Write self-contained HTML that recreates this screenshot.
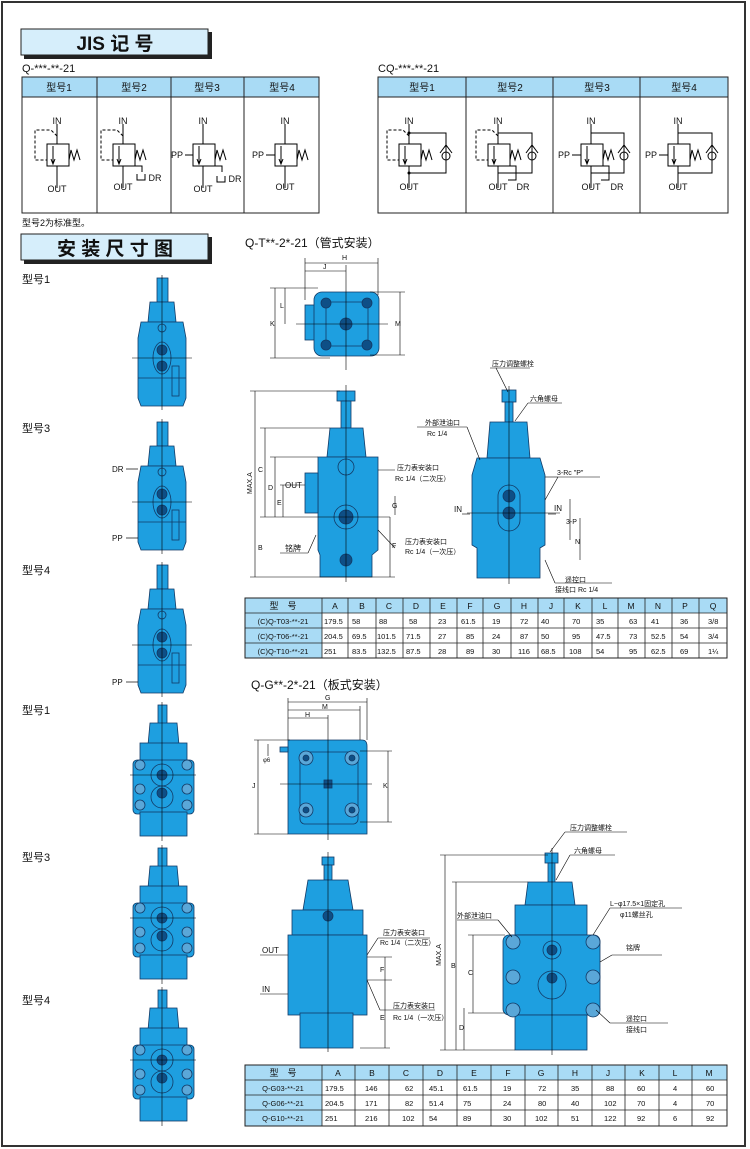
<!DOCTYPE html>
<html><head><meta charset="utf-8"><style>
html,body{margin:0;padding:0;background:#fff}
svg{display:block}
text{font-family:"Liberation Sans","Noto Sans CJK SC",sans-serif;fill:#111}
</style></head><body>
<svg width="750" height="1149" viewBox="0 0 750 1149" xmlns="http://www.w3.org/2000/svg">
<defs>
<g id="sym">
<line x1="0" y1="-20" x2="0" y2="0" stroke="#000" stroke-width="1"/>
<rect x="-10" y="0" width="22" height="22" fill="none" stroke="#000" stroke-width="1"/>
<line x1="-4" y1="2" x2="-4" y2="20" stroke="#000"/><path d="M-6,15 L-4,20 L-2,15" fill="none" stroke="#000"/>
<path d="M12,16 L14,6 L17,16 L20,6 L23,16" fill="none" stroke="#000"/>
<line x1="0" y1="22" x2="0" y2="44" stroke="#000"/>
</g>
<g id="pil"><path d="M0,-8 L-6,-14 L-22,-14 L-22,16 L-10,16" fill="none" stroke="#000" stroke-dasharray="3,2"/></g>
<g id="tv" stroke="#123a66" stroke-width="0.8" fill="#1e9fe0">
<rect x="-5" y="0" width="11" height="24"/>
<path d="M-12,24 L12,24 L14,44 L-14,44 Z"/>
<path d="M-21,44 L21,44 L24,60 L24,120 L21,128 L-21,128 L-24,120 L-24,60 Z"/>
<ellipse cx="0" cy="80" rx="9" ry="16" fill="#1e9fe0"/>
<circle cx="0" cy="72" r="5" fill="#0e4f86"/><circle cx="0" cy="88" r="5" fill="#0e4f86"/>
<circle cx="0" cy="50" r="4" fill="none"/>
<line x1="0" y1="-3" x2="0" y2="132" stroke="#000" stroke-width="0.6"/>
<line x1="-30" y1="80" x2="30" y2="80" stroke="#000" stroke-width="0.6"/>
<rect x="10" y="88" width="7" height="30" fill="none"/>
<line x1="-24" y1="100" x2="24" y2="100"/>
</g>
<g id="gv" stroke="#123a66" stroke-width="0.8" fill="#1e9fe0">
<rect x="-4" y="0" width="9" height="20"/>
<path d="M-12,18 L15,18 L17,40 L-14,40 Z"/>
<rect x="-22" y="38" width="47" height="18"/>
<rect x="-29" y="55" width="61" height="54" rx="4"/>
<rect x="-22" y="107" width="47" height="24"/>
<circle cx="0" cy="70" r="11" fill="none"/><circle cx="0" cy="70" r="5" fill="#0e4f86"/>
<circle cx="0" cy="92" r="11" fill="none"/><circle cx="0" cy="88" r="5" fill="#0e4f86"/>
<circle cx="-22" cy="60" r="5" fill="#5aa7d8"/><circle cx="25" cy="60" r="5" fill="#5aa7d8"/>
<circle cx="-22" cy="84" r="5" fill="#5aa7d8"/><circle cx="25" cy="84" r="5" fill="#5aa7d8"/>
<circle cx="-22" cy="100" r="5" fill="#5aa7d8"/><circle cx="25" cy="100" r="5" fill="#5aa7d8"/>
<line x1="0" y1="-3" x2="0" y2="136" stroke="#000" stroke-width="0.6"/>
<line x1="-32" y1="70" x2="34" y2="70" stroke="#000" stroke-width="0.6"/>
</g>
</defs>
<rect x="2" y="2" width="743" height="1144" fill="none" stroke="#333" stroke-width="2"/>
<rect x="24" y="32" width="188" height="27" fill="#222"/>
<rect x="21" y="29" width="187" height="26" fill="#d6eefb" stroke="#222" stroke-width="1"/>
<text x="115" y="50" font-size="19" font-weight="bold" text-anchor="middle">JIS 记 号</text>
<text x="22" y="72" font-size="11">Q-***-**-21</text>
<text x="378" y="72" font-size="11">CQ-***-**-21</text>
<rect x="22" y="77" width="297" height="20" fill="#a9dbf5"/>
<rect x="22" y="77" width="297" height="136" fill="none" stroke="#222"/>
<line x1="22" y1="97" x2="319" y2="97" stroke="#222"/>
<line x1="97" y1="77" x2="97" y2="213" stroke="#222"/><line x1="171" y1="77" x2="171" y2="213" stroke="#222"/><line x1="244" y1="77" x2="244" y2="213" stroke="#222"/>
<g font-size="10" text-anchor="middle"><text x="59" y="91">型号1</text><text x="134" y="91">型号2</text><text x="207" y="91">型号3</text><text x="282" y="91">型号4</text></g>
<rect x="378" y="77" width="350" height="20" fill="#a9dbf5"/>
<rect x="378" y="77" width="350" height="136" fill="none" stroke="#222"/>
<line x1="378" y1="97" x2="728" y2="97" stroke="#222"/>
<line x1="466" y1="77" x2="466" y2="213" stroke="#222"/><line x1="553" y1="77" x2="553" y2="213" stroke="#222"/><line x1="640" y1="77" x2="640" y2="213" stroke="#222"/>
<g font-size="10" text-anchor="middle"><text x="422" y="91">型号1</text><text x="510" y="91">型号2</text><text x="597" y="91">型号3</text><text x="684" y="91">型号4</text></g>
<g font-size="9" text-anchor="middle">
<use href="#sym" x="57" y="144"/><use href="#pil" x="57" y="144"/><text x="57" y="124">IN</text><text x="57" y="192">OUT</text>
<use href="#sym" x="123" y="144"/><use href="#pil" x="123" y="144"/><text x="123" y="124">IN</text><text x="123" y="190">OUT</text>
<path d="M135,166 L142,166 L142,172 M137,174 L137,180 L145,180 L145,174" fill="none" stroke="#000"/><text x="155" y="181">DR</text>
<use href="#sym" x="203" y="144"/><text x="203" y="124">IN</text><text x="203" y="192">OUT</text>
<line x1="185" y1="155" x2="193" y2="155" stroke="#000"/><text x="177" y="158">PP</text>
<path d="M215,166 L222,166 L222,172 M217,176 L217,182 L225,182 L225,176" fill="none" stroke="#000"/><text x="235" y="182">DR</text>
<use href="#sym" x="285" y="144"/><text x="285" y="124">IN</text><text x="285" y="190">OUT</text>
<line x1="266" y1="155" x2="275" y2="155" stroke="#000"/><text x="258" y="158">PP</text>
</g>
<g font-size="9" text-anchor="middle" fill="none">
<g><use href="#sym" x="409" y="144"/><use href="#pil" x="409" y="144"/><path d="M409,133 L446,133 L446,173 L409,173" fill="none" stroke="#000"/><path d="M440,153 l6,-8 l6,8" fill="none" stroke="#000"/><circle cx="446" cy="156" r="4" fill="none" stroke="#000"/><circle cx="409" cy="133" r="1.5" fill="#000"/><circle cx="409" cy="173" r="1.5" fill="#000"/><text x="409" y="124">IN</text><text x="409" y="190">OUT</text></g>
<g><use href="#sym" x="498" y="144"/><use href="#pil" x="498" y="144"/><path d="M498,133 L532,133 L532,173 L498,173" fill="none" stroke="#000"/><path d="M526,153 l6,-8 l6,8" fill="none" stroke="#000"/><circle cx="532" cy="156" r="4" fill="none" stroke="#000"/><path d="M510,166 L516,166 L516,180 L508,180" fill="none" stroke="#000"/><text x="498" y="190">OUT</text><text x="523" y="190">DR</text><text x="498" y="124">IN</text></g>
<g><use href="#sym" x="591" y="144"/><path d="M591,133 L624,133 L624,173 L591,173" fill="none" stroke="#000"/><path d="M618,153 l6,-8 l6,8" fill="none" stroke="#000"/><circle cx="624" cy="156" r="4" fill="none" stroke="#000"/><line x1="572" y1="155" x2="581" y2="155" stroke="#000"/><text x="564" y="158">PP</text><path d="M603,166 L609,166 L609,180 L601,180" fill="none" stroke="#000"/><text x="591" y="190">OUT</text><text x="617" y="190">DR</text><text x="591" y="124">IN</text></g>
<g><use href="#sym" x="678" y="144"/><path d="M678,133 L712,133 L712,173 L678,173" fill="none" stroke="#000"/><path d="M706,153 l6,-8 l6,8" fill="none" stroke="#000"/><circle cx="712" cy="156" r="4" fill="none" stroke="#000"/><line x1="659" y1="155" x2="668" y2="155" stroke="#000"/><text x="651" y="158">PP</text><text x="678" y="190">OUT</text><text x="678" y="124">IN</text></g>
</g>
<text x="22" y="226" font-size="9">型号2为标准型。</text>
<rect x="24" y="237" width="188" height="27" fill="#222"/>
<rect x="21" y="234" width="187" height="26" fill="#d6eefb" stroke="#222"/>
<text x="115" y="255" font-size="19" font-weight="bold" text-anchor="middle">安 装 尺 寸 图</text>
<text x="245" y="247" font-size="12">Q-T**-2*-21（管式安装）</text>
<g font-size="11"><text x="22" y="283">型号1</text><text x="22" y="432">型号3</text><text x="22" y="574">型号4</text><text x="22" y="714">型号1</text><text x="22" y="861">型号3</text><text x="22" y="1004">型号4</text></g>
<use href="#tv" x="162" y="278"/>
<use href="#tv" x="162" y="422"/>
<use href="#tv" x="162" y="565"/>
<use href="#gv" x="162" y="705"/>
<use href="#gv" x="162" y="848"/>
<use href="#gv" x="162" y="990"/>
<g font-size="8"><text x="112" y="472">DR</text><text x="112" y="541">PP</text><text x="112" y="685">PP</text></g>
<g stroke="#000" stroke-width="0.7"><line x1="126" y1="469" x2="138" y2="469"/><line x1="126" y1="538" x2="138" y2="538"/><line x1="126" y1="682" x2="138" y2="682"/></g>
<g stroke="#123a66" stroke-width="0.8" fill="#1e9fe0">
<rect x="305" y="305" width="14" height="35"/>
<rect x="314" y="292" width="65" height="64" rx="8"/>
<rect x="326" y="302" width="42" height="44" rx="5" fill="none"/>
<circle cx="326" cy="303" r="5" fill="#0e4f86"/><circle cx="367" cy="303" r="5" fill="#0e4f86"/><circle cx="326" cy="345" r="5" fill="#0e4f86"/><circle cx="367" cy="345" r="5" fill="#0e4f86"/>
<circle cx="346" cy="324" r="6" fill="#0e4f86"/>
</g>
<g stroke="#000" stroke-width="0.6" fill="none">
<line x1="346" y1="265" x2="346" y2="370"/><line x1="296" y1="324" x2="388" y2="324"/>
<line x1="305" y1="263" x2="378" y2="263"/><line x1="305" y1="258" x2="305" y2="300"/><line x1="378" y1="258" x2="378" y2="295"/>
<line x1="305" y1="271" x2="346" y2="271"/>
<line x1="275" y1="288" x2="275" y2="358"/><line x1="270" y1="288" x2="318" y2="288"/><line x1="270" y1="358" x2="330" y2="358"/>
<line x1="285" y1="288" x2="285" y2="324"/>
<line x1="400" y1="292" x2="400" y2="355"/><line x1="370" y1="292" x2="405" y2="292"/><line x1="370" y1="355" x2="405" y2="355"/>
</g>
<g font-size="7"><text x="342" y="260">H</text><text x="323" y="269">J</text><text x="270" y="326">K</text><text x="280" y="308">L</text><text x="395" y="326">M</text></g>
<g stroke="#123a66" stroke-width="0.8" fill="#1e9fe0">
<rect x="337" y="391" width="18" height="10"/><rect x="341" y="401" width="10" height="27"/>
<path d="M330,428 L363,428 L366,457 L327,457 Z"/>
<path d="M318,457 L378,457 L378,550 L372,555 L372,577 L320,577 L320,555 L318,550 Z"/>
<rect x="305" y="473" width="13" height="40"/>
<circle cx="346" cy="467" r="8" fill="none"/><circle cx="346" cy="517" r="12" fill="none"/><circle cx="346" cy="517" r="7" fill="#0e4f86"/>
<circle cx="346" cy="560" r="6" fill="#0e4f86"/>
</g>
<g stroke="#000" stroke-width="0.6" fill="none">
<line x1="346" y1="385" x2="346" y2="582"/><line x1="260" y1="517" x2="390" y2="517"/>
<line x1="255" y1="391" x2="255" y2="577"/><line x1="250" y1="391" x2="340" y2="391"/><line x1="250" y1="577" x2="395" y2="577"/>
<line x1="265" y1="428" x2="265" y2="517"/><line x1="260" y1="428" x2="330" y2="428"/>
<line x1="275" y1="457" x2="275" y2="517"/><line x1="270" y1="457" x2="318" y2="457"/>
<line x1="283" y1="485" x2="283" y2="517"/><line x1="280" y1="485" x2="305" y2="485"/>
<line x1="395" y1="496" x2="395" y2="515"/><line x1="390" y1="517" x2="390" y2="577"/>
<line x1="378" y1="470" x2="395" y2="470"/><line x1="378" y1="530" x2="395" y2="548"/>
<line x1="280" y1="553" x2="308" y2="553"/><line x1="308" y1="553" x2="316" y2="535"/>
</g>
<g font-size="7"><text x="248" y="490" transform="rotate(-90 252 490)">MAX.A</text><text x="258" y="472">C</text><text x="268" y="490">D</text><text x="277" y="505">E</text><text x="258" y="550">B</text><text x="392" y="548">F</text><text x="392" y="508">G</text>
<text x="285" y="488" font-size="8">OUT</text><text x="285" y="551" font-size="8">铭牌</text>
<text x="397" y="470">压力表安装口</text><text x="395" y="481">Rc 1/4（二次压）</text>
<text x="405" y="544">压力表安装口</text><text x="405" y="554">Rc 1/4（一次压）</text></g>
<g stroke="#123a66" stroke-width="0.8" fill="#1e9fe0">
<rect x="502" y="390" width="14" height="12"/><rect x="505" y="402" width="8" height="20"/>
<path d="M490,422 L527,422 L530,458 L487,458 Z"/>
<path d="M477,458 L540,458 L545,475 L545,545 L540,548 L540,578 L477,578 L477,548 L472,545 L472,475 Z"/>
<rect x="498" y="485" width="22" height="46" rx="11" fill="none"/>
<circle cx="509" cy="496" r="6" fill="#0e4f86"/><circle cx="509" cy="513" r="6" fill="#0e4f86"/>
</g>
<g stroke="#000" stroke-width="0.6" fill="none">
<line x1="509" y1="386" x2="509" y2="584"/><line x1="467" y1="513" x2="560" y2="513"/>
<line x1="496" y1="368" x2="508" y2="392"/><line x1="490" y1="368" x2="530" y2="368"/>
<line x1="515" y1="421" x2="528" y2="403"/><line x1="528" y1="403" x2="562" y2="403"/>
<line x1="417" y1="427" x2="467" y2="427"/><line x1="467" y1="427" x2="480" y2="460"/>
<line x1="545" y1="477" x2="558" y2="477"/><line x1="558" y1="477" x2="600" y2="477"/><line x1="545" y1="500" x2="558" y2="477"/>
<line x1="570" y1="499" x2="570" y2="540"/><line x1="580" y1="518" x2="580" y2="560"/>
<line x1="545" y1="560" x2="555" y2="583"/><line x1="555" y1="583" x2="612" y2="583"/>
<line x1="462" y1="514" x2="470" y2="514"/><line x1="548" y1="514" x2="556" y2="514"/>
</g>
<g font-size="7"><text x="492" y="366">压力调整螺栓</text><text x="530" y="401">六角螺母</text><text x="425" y="425">外部泄油口</text><text x="427" y="436">Rc 1/4</text>
<text x="557" y="475">3-Rc "P"</text><text x="454" y="512" font-size="8">IN</text><text x="554" y="511" font-size="8">IN</text>
<text x="565" y="582">遥控口</text><text x="555" y="592">接线口 Rc 1/4</text><text x="566" y="524">3-P</text><text x="575" y="544">N</text></g>
<g font-size="7.5">
<rect x="245" y="598" width="77" height="60" fill="#a9dbf5"/>
<rect x="322" y="598" width="405" height="15" fill="#a9dbf5"/>
<rect x="245" y="598" width="482" height="60" fill="none" stroke="#222"/>
<g stroke="#222" stroke-width="0.8">
<line x1="245" y1="613" x2="727" y2="613"/><line x1="245" y1="628" x2="727" y2="628"/><line x1="245" y1="643" x2="727" y2="643"/>
<line x1="322" y1="598" x2="322" y2="658"/><line x1="348" y1="598" x2="348" y2="658"/><line x1="376" y1="598" x2="376" y2="658"/><line x1="403" y1="598" x2="403" y2="658"/><line x1="430" y1="598" x2="430" y2="658"/><line x1="457" y1="598" x2="457" y2="658"/><line x1="483" y1="598" x2="483" y2="658"/><line x1="511" y1="598" x2="511" y2="658"/><line x1="538" y1="598" x2="538" y2="658"/><line x1="564" y1="598" x2="564" y2="658"/><line x1="592" y1="598" x2="592" y2="658"/><line x1="618" y1="598" x2="618" y2="658"/><line x1="645" y1="598" x2="645" y2="658"/><line x1="672" y1="598" x2="672" y2="658"/><line x1="699" y1="598" x2="699" y2="658"/>
</g>
<text x="283" y="609" text-anchor="middle" font-size="9">型　号</text>
<g text-anchor="middle" font-size="8.5"><text x="335" y="609">A</text><text x="362" y="609">B</text><text x="389" y="609">C</text><text x="416" y="609">D</text><text x="443" y="609">E</text><text x="470" y="609">F</text><text x="497" y="609">G</text><text x="524" y="609">H</text><text x="551" y="609">J</text><text x="578" y="609">K</text><text x="605" y="609">L</text><text x="631" y="609">M</text><text x="658" y="609">N</text><text x="685" y="609">P</text><text x="713" y="609">Q</text></g>
<g text-anchor="middle"><text x="283" y="624">(C)Q-T03-**-21</text><text x="283" y="639">(C)Q-T06-**-21</text><text x="283" y="654">(C)Q-T10-**-21</text></g>
<g><text x="324" y="624">179.5</text><text x="352" y="624">58</text><text x="379" y="624">88</text><text x="409" y="624">58</text><text x="438" y="624">23</text><text x="461" y="624">61.5</text><text x="492" y="624">19</text><text x="520" y="624">72</text><text x="541" y="624">40</text><text x="572" y="624">70</text><text x="596" y="624">35</text><text x="629" y="624">63</text><text x="651" y="624">41</text><text x="680" y="624">36</text><text x="708" y="624">3/8</text></g>
<g><text x="324" y="639">204.5</text><text x="352" y="639">69.5</text><text x="377" y="639">101.5</text><text x="406" y="639">71.5</text><text x="438" y="639">27</text><text x="466" y="639">85</text><text x="492" y="639">24</text><text x="520" y="639">87</text><text x="541" y="639">50</text><text x="572" y="639">95</text><text x="596" y="639">47.5</text><text x="629" y="639">73</text><text x="651" y="639">52.5</text><text x="680" y="639">54</text><text x="708" y="639">3/4</text></g>
<g><text x="324" y="654">251</text><text x="352" y="654">83.5</text><text x="377" y="654">132.5</text><text x="406" y="654">87.5</text><text x="438" y="654">28</text><text x="466" y="654">89</text><text x="492" y="654">30</text><text x="518" y="654">116</text><text x="541" y="654">68.5</text><text x="569" y="654">108</text><text x="596" y="654">54</text><text x="629" y="654">95</text><text x="651" y="654">62.5</text><text x="680" y="654">69</text><text x="708" y="654">1¼</text></g>
</g>
<text x="251" y="689" font-size="12">Q-G**-2*-21（板式安装）</text>
<g stroke="#123a66" stroke-width="0.8" fill="#1e9fe0">
<path d="M288,740 L362,740 Q367,740 367,746 L367,834 L288,834 Z"/>
<rect x="300" y="752" width="58" height="72" rx="5" fill="none"/>
<circle cx="306" cy="758" r="7" fill="#5aa7d8"/><circle cx="352" cy="758" r="7" fill="#5aa7d8"/><circle cx="306" cy="810" r="7" fill="#5aa7d8"/><circle cx="352" cy="810" r="7" fill="#5aa7d8"/>
<circle cx="306" cy="758" r="3" fill="#0e4f86"/><circle cx="352" cy="758" r="3" fill="#0e4f86"/><circle cx="306" cy="810" r="3" fill="#0e4f86"/><circle cx="352" cy="810" r="3" fill="#0e4f86"/>
<rect x="324" y="780" width="8" height="8" fill="#0e4f86"/>
<rect x="280" y="747" width="8" height="5"/>
</g>
<g stroke="#000" stroke-width="0.6" fill="none">
<line x1="328" y1="715" x2="328" y2="840"/><line x1="280" y1="784" x2="372" y2="784"/>
<line x1="288" y1="702" x2="367" y2="702"/><line x1="288" y1="710" x2="360" y2="710"/><line x1="288" y1="718" x2="328" y2="718"/>
<line x1="288" y1="698" x2="288" y2="740"/><line x1="367" y1="698" x2="367" y2="740"/><line x1="360" y1="706" x2="360" y2="740"/>
<line x1="258" y1="740" x2="258" y2="834"/><line x1="254" y1="740" x2="290" y2="740"/><line x1="254" y1="834" x2="288" y2="834"/>
<line x1="268" y1="744" x2="268" y2="756"/>
<line x1="388" y1="751" x2="388" y2="822"/><line x1="360" y1="751" x2="392" y2="751"/><line x1="360" y1="822" x2="392" y2="822"/>
</g>
<g font-size="7"><text x="325" y="700">G</text><text x="322" y="709">M</text><text x="305" y="717">H</text><text x="252" y="788">J</text><text x="383" y="788">K</text><text x="263" y="762" font-size="6">φ6</text></g>
<g stroke="#123a66" stroke-width="0.8" fill="#1e9fe0">
<rect x="322" y="857" width="12" height="8"/><rect x="324" y="865" width="8" height="15"/>
<path d="M308,880 L348,880 L353,910 L303,910 Z"/>
<rect x="292" y="910" width="71" height="25"/>
<rect x="288" y="935" width="79" height="80"/>
<rect x="300" y="1013" width="53" height="35"/>
<circle cx="328" cy="916" r="5" fill="#0e4f86"/>
</g>
<g stroke="#000" stroke-width="0.6" fill="none">
<line x1="328" y1="852" x2="328" y2="1052"/>
<line x1="260" y1="955" x2="288" y2="955"/><line x1="260" y1="994" x2="288" y2="994"/>
<line x1="367" y1="957" x2="392" y2="957"/><line x1="367" y1="980" x2="392" y2="980"/>
<line x1="385" y1="957" x2="385" y2="1048"/><line x1="360" y1="1048" x2="390" y2="1048"/>
<line x1="367" y1="955" x2="378" y2="938"/><line x1="378" y1="938" x2="430" y2="938"/>
<line x1="367" y1="980" x2="380" y2="1010"/><line x1="380" y1="1010" x2="435" y2="1010"/>
</g>
<g font-size="7"><text x="262" y="953" font-size="8">OUT</text><text x="262" y="992" font-size="8">IN</text><text x="380" y="972">F</text><text x="380" y="1020">E</text>
<text x="383" y="935">压力表安装口</text><text x="380" y="945">Rc 1/4（二次压）</text><text x="393" y="1008">压力表安装口</text><text x="393" y="1020">Rc 1/4（一次压）</text></g>
<g stroke="#123a66" stroke-width="0.8" fill="#1e9fe0">
<rect x="545" y="853" width="13" height="10"/><rect x="548" y="863" width="7" height="19"/>
<path d="M528,882 L572,882 L575,905 L525,905 Z"/>
<rect x="515" y="905" width="72" height="30"/>
<rect x="503" y="935" width="97" height="80" rx="6"/>
<rect x="515" y="1015" width="72" height="35"/>
<circle cx="552" cy="950" r="9" fill="none"/><circle cx="552" cy="950" r="5" fill="#0e4f86"/>
<circle cx="552" cy="985" r="14" fill="none"/><circle cx="552" cy="978" r="5" fill="#0e4f86"/>
<circle cx="513" cy="942" r="7" fill="#5aa7d8"/><circle cx="593" cy="942" r="7" fill="#5aa7d8"/><circle cx="513" cy="977" r="7" fill="#5aa7d8"/><circle cx="593" cy="977" r="7" fill="#5aa7d8"/><circle cx="513" cy="1010" r="7" fill="#5aa7d8"/><circle cx="593" cy="1010" r="7" fill="#5aa7d8"/>
</g>
<g stroke="#000" stroke-width="0.6" fill="none">
<line x1="552" y1="848" x2="552" y2="1055"/>
<line x1="445" y1="855" x2="445" y2="1050"/><line x1="440" y1="855" x2="548" y2="855"/><line x1="440" y1="1050" x2="515" y2="1050"/>
<line x1="456" y1="882" x2="456" y2="1050"/><line x1="452" y1="882" x2="528" y2="882"/>
<line x1="473" y1="935" x2="473" y2="1013"/><line x1="468" y1="935" x2="505" y2="935"/><line x1="468" y1="1013" x2="505" y2="1013"/>
<line x1="464" y1="1008" x2="464" y2="1050"/>
<line x1="550" y1="852" x2="565" y2="832"/><line x1="565" y1="832" x2="627" y2="832"/>
<line x1="556" y1="880" x2="570" y2="855"/><line x1="570" y1="855" x2="615" y2="855"/>
<line x1="457" y1="920" x2="498" y2="920"/><line x1="498" y1="920" x2="512" y2="937"/>
<line x1="593" y1="935" x2="610" y2="908"/><line x1="610" y1="908" x2="682" y2="908"/>
<line x1="600" y1="962" x2="612" y2="955"/><line x1="612" y1="955" x2="662" y2="955"/>
<line x1="596" y1="1010" x2="610" y2="1023"/><line x1="610" y1="1023" x2="668" y2="1023"/>
</g>
<g font-size="7"><text x="570" y="830">压力调整螺栓</text><text x="574" y="853">六角螺母</text><text x="457" y="918">外部泄油口</text>
<text x="610" y="906">L−φ17.5×1固定孔</text><text x="620" y="917">φ11螺丝孔</text><text x="626" y="950">铭牌</text>
<text x="626" y="1021">遥控口</text><text x="626" y="1032">接线口</text>
<text x="441" y="955" text-anchor="middle" transform="rotate(-90 441 955)">MAX.A</text><text x="451" y="968">B</text><text x="468" y="975">C</text><text x="459" y="1030">D</text></g>
<g font-size="7.5">
<rect x="245" y="1065" width="77" height="61" fill="#a9dbf5"/>
<rect x="322" y="1065" width="405" height="15" fill="#a9dbf5"/>
<rect x="245" y="1065" width="482" height="61" fill="none" stroke="#222"/>
<g stroke="#222" stroke-width="0.8">
<line x1="245" y1="1080" x2="727" y2="1080"/><line x1="245" y1="1095" x2="727" y2="1095"/><line x1="245" y1="1110" x2="727" y2="1110"/>
<line x1="322" y1="1065" x2="322" y2="1126"/><line x1="355" y1="1065" x2="355" y2="1126"/><line x1="389" y1="1065" x2="389" y2="1126"/><line x1="423" y1="1065" x2="423" y2="1126"/><line x1="457" y1="1065" x2="457" y2="1126"/><line x1="491" y1="1065" x2="491" y2="1126"/><line x1="525" y1="1065" x2="525" y2="1126"/><line x1="558" y1="1065" x2="558" y2="1126"/><line x1="592" y1="1065" x2="592" y2="1126"/><line x1="625" y1="1065" x2="625" y2="1126"/><line x1="659" y1="1065" x2="659" y2="1126"/><line x1="692" y1="1065" x2="692" y2="1126"/>
</g>
<text x="283" y="1076" text-anchor="middle" font-size="9">型　号</text>
<g text-anchor="middle" font-size="8.5"><text x="338" y="1076">A</text><text x="372" y="1076">B</text><text x="406" y="1076">C</text><text x="440" y="1076">D</text><text x="474" y="1076">E</text><text x="508" y="1076">F</text><text x="541" y="1076">G</text><text x="575" y="1076">H</text><text x="608" y="1076">J</text><text x="642" y="1076">K</text><text x="675" y="1076">L</text><text x="709" y="1076">M</text></g>
<g text-anchor="middle"><text x="283" y="1091">Q-G03-**-21</text><text x="283" y="1106">Q-G06-**-21</text><text x="283" y="1121">Q-G10-**-21</text></g>
<g><text x="325" y="1091">179.5</text><text x="365" y="1091">146</text><text x="405" y="1091">62</text><text x="429" y="1091">45.1</text><text x="463" y="1091">61.5</text><text x="503" y="1091">19</text><text x="538" y="1091">72</text><text x="571" y="1091">35</text><text x="606" y="1091">88</text><text x="637" y="1091">60</text><text x="673" y="1091">4</text><text x="706" y="1091">60</text></g>
<g><text x="325" y="1106">204.5</text><text x="365" y="1106">171</text><text x="405" y="1106">82</text><text x="429" y="1106">51.4</text><text x="463" y="1106">75</text><text x="503" y="1106">24</text><text x="538" y="1106">80</text><text x="571" y="1106">40</text><text x="604" y="1106">102</text><text x="637" y="1106">70</text><text x="673" y="1106">4</text><text x="706" y="1106">70</text></g>
<g><text x="325" y="1121">251</text><text x="365" y="1121">216</text><text x="402" y="1121">102</text><text x="429" y="1121">54</text><text x="463" y="1121">89</text><text x="503" y="1121">30</text><text x="535" y="1121">102</text><text x="571" y="1121">51</text><text x="604" y="1121">122</text><text x="637" y="1121">92</text><text x="673" y="1121">6</text><text x="706" y="1121">92</text></g>
</g>
</svg>
</body></html>
